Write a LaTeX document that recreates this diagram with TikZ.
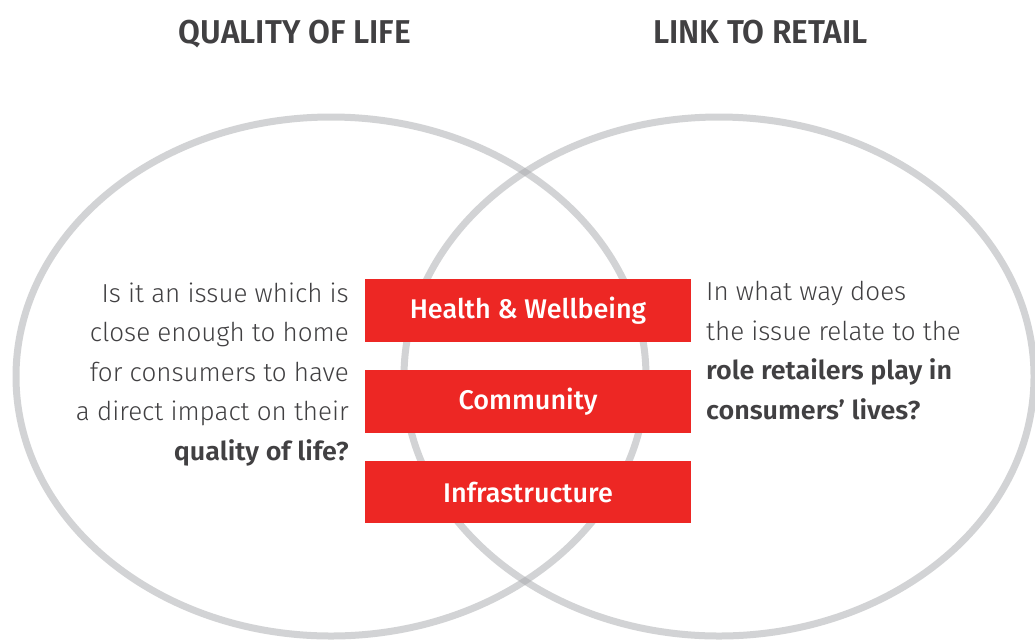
\documentclass[tikz,border=0pt]{standalone}
\usepackage{fontspec}
\setmainfont{Fira Sans}
\newfontfamily\lightfont{Fira Sans Light}
\newfontfamily\medfont{Fira Sans Medium}
\newfontfamily\semifont[FakeStretch=1.035]{Fira Sans SemiBold}
\newfontfamily\hdfont[FakeStretch=0.96]{Fira Sans SemiBold}
\definecolor{txt}{HTML}{414042}
\definecolor{venn}{HTML}{A7A9AC}
\definecolor{boxred}{HTML}{ED2724}
\tikzset{
  vennring/.style={draw=venn, draw opacity=0.5, line width=7pt},
  header/.style={font=\hdfont\fontsize{33}{38}\selectfont, text=txt, inner sep=0pt, anchor=base},
  topic/.style={fill=boxred, minimum width=326pt, minimum height=62.5pt, inner sep=0pt,
     text=white, font=\medfont\fontsize{27}{32}\selectfont},
  body/.style={font=\lightfont\fontsize{26}{39.5}\selectfont, text=txt, inner sep=0pt},
}
\newcommand{\strongtxt}[1]{{\semifont #1}}
\begin{document}
\begin{tikzpicture}[x=1pt,y=-1pt]
\useasboundingbox (0,0) rectangle (1035,641);
\fill[white] (0,0) rectangle (1035,641);
\draw[vennring] (331,376.5) ellipse [x radius=315, y radius=259.5];
\draw[vennring] (719,376.5) ellipse [x radius=315, y radius=259.5];
\node[header] (h1) at (295,43) {QUALITY OF LIFE};
\node[header] (h2) at (760.5,43) {LINK TO RETAIL};
\node[topic] (t1) at (528,310.5) {Health \& Wellbeing};
\node[topic] (t2) at (528,401.5) {Community};
\node[topic] (t3) at (528,492) {Infrastructure};
\node[body, anchor=base east, align=right] (q1) at (349,460)
  {Is it an issue which is\\close enough to home\\for consumers to have\\a direct impact on their\\\strongtxt{quality of life?}};
\node[body, anchor=base west, align=left] (q2) at (706,419)
  {In what way does\\the issue relate to the\\\strongtxt{role retailers play in}\\\strongtxt{consumers’ lives?}};
\end{tikzpicture}
\end{document}
